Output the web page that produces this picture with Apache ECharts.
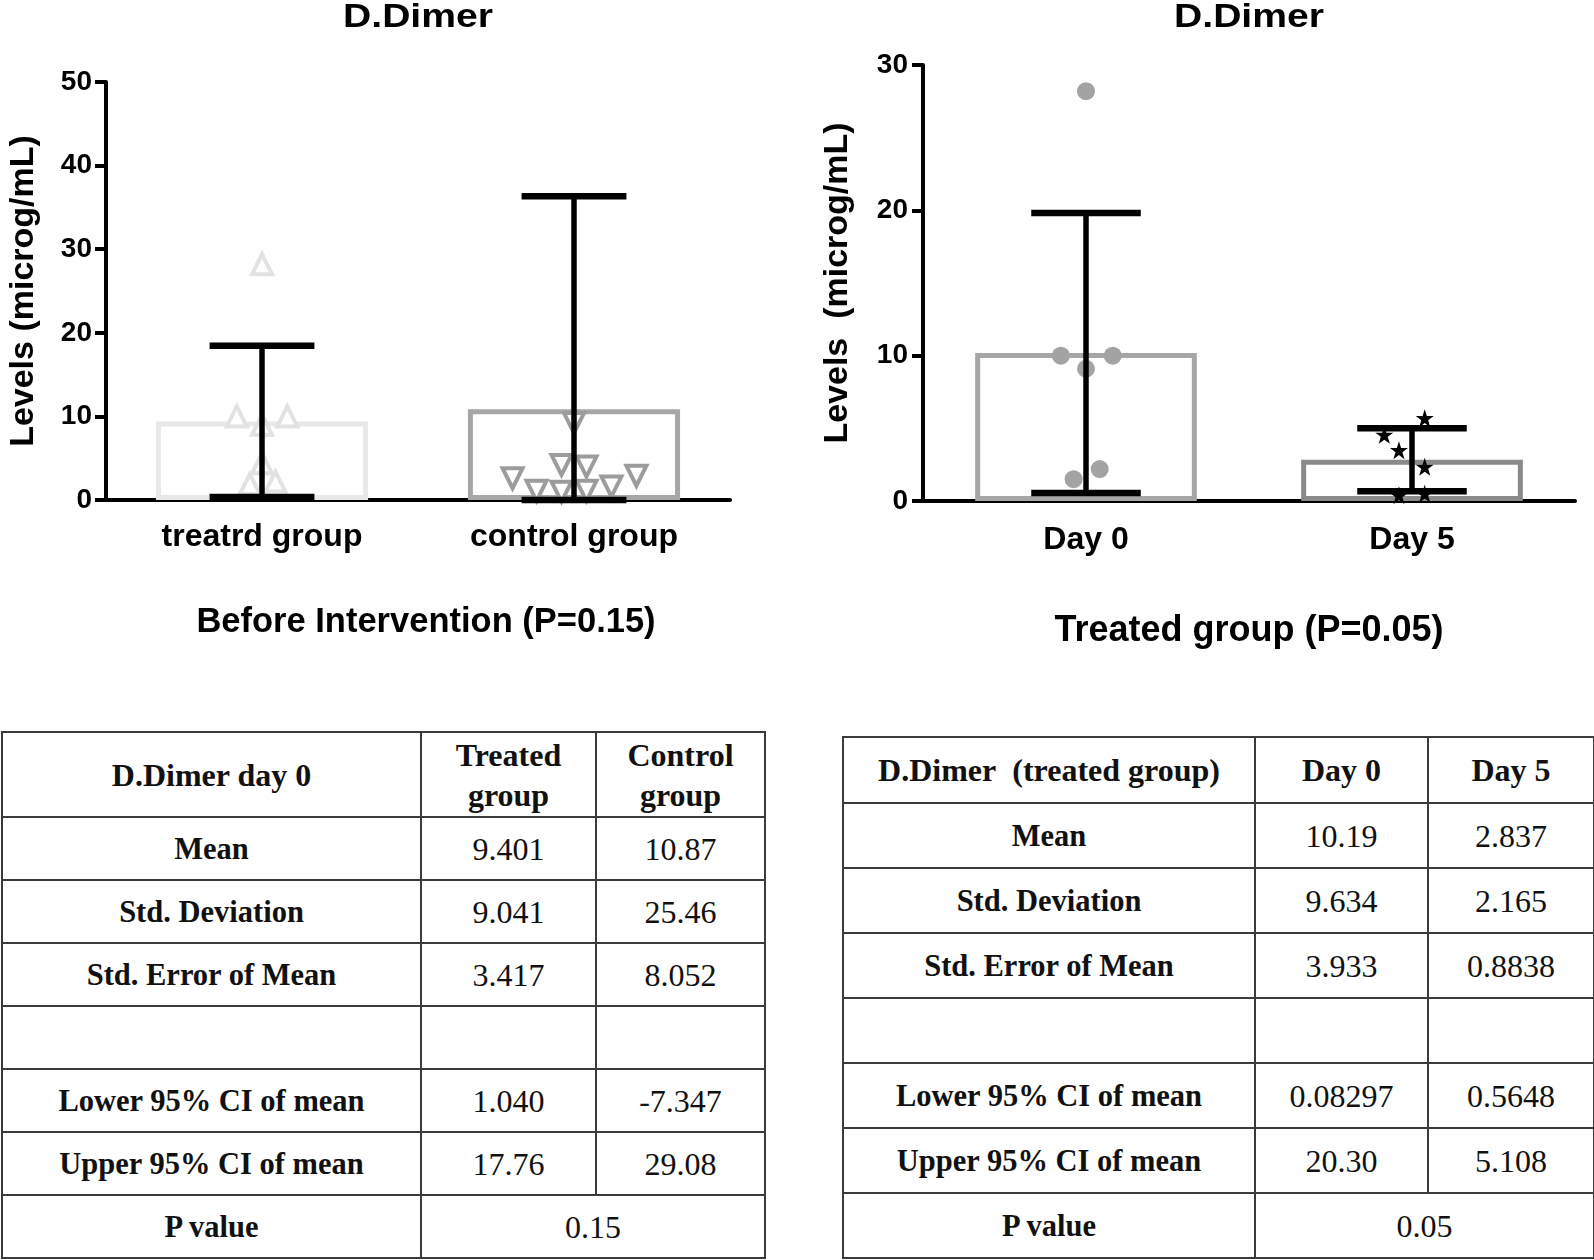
<!DOCTYPE html>
<html>
<head>
<meta charset="utf-8">
<script src="https://cdn.jsdelivr.net/npm/echarts@6/dist/echarts.min.js"></script>
<style>
  html, body { margin: 0; padding: 0; background: #fff; }
  #wrap { position: relative; width: 1594px; height: 1260px; overflow: hidden; background: #fff; }
  #chart { position: absolute; left: 0; top: 0; width: 1594px; height: 700px; }
  table.stat { position: absolute; border-collapse: collapse; table-layout: fixed;
    font-family: "Liberation Serif", "Times New Roman", serif; font-size: 32px; color: #111; }
  table.stat td { border: 2px solid #3a3a3a; text-align: center; vertical-align: middle; padding: 0; line-height: 40px; }
  table.stat td.lab { font-weight: bold; font-size: 30.5px; }
  table.stat td.hd { font-weight: bold; }
</style>
</head>
<body>
<div id="wrap">
  <div id="chart"></div>
  <table class="stat" id="t1"></table>
  <table class="stat" id="t2"></table>
</div>
<script>
// ---------- Data ----------
const leftTitle = 'D.Dimer';
const rightTitle = 'D.Dimer';
const leftCategories = ['treatrd group', 'control group'];
const leftMeans = [9.401, 10.87];
const leftSD = [9.041, 25.46];
const treatedValues = [28.2, 10.0, 10.0, 9.0, 4.4, 1.9, 2.2];
const treatedJitter = [0, -0.081, 0.081, 0, 0, -0.039, 0.043];
const controlValues = [9.2, 2.6, 1.1, 4.2, 1.0, 4.0, 1.1, 1.6, 2.9];
const controlJitter = [0, -0.197, -0.12, -0.04, -0.04, 0.04, 0.04, 0.12, 0.2];
const leftYTicks = [0, 50, 10];   // min, max, interval
const leftYName = 'Levels (microg/mL)';
const leftXName = 'Before Intervention (P=0.15)';

const rightCategories = ['Day 0', 'Day 5'];
const rightMeans = [10.19, 2.837];
const rightSD = [9.634, 2.165];
const day0Values = [28.2, 10.0, 10.0, 9.1, 1.5, 2.2];
const day0Jitter = [0, -0.077, 0.082, 0, -0.038, 0.042];
const day5Values = [5.7, 4.55, 3.5, 2.35, 0.4, 0.5];
const day5Jitter = [0.039, -0.085, -0.04, 0.039, -0.04, 0.039];
const rightYTicks = [0, 30, 10];
const rightYName = 'Levels  (microg/mL)';
const rightXName = 'Treated group (P=0.05)';

const table1Header = ['D.Dimer day 0', 'Treated group', 'Control group'];
const table1Rows = [
  ['Mean', '9.401', '10.87'],
  ['Std. Deviation', '9.041', '25.46'],
  ['Std. Error of Mean', '3.417', '8.052'],
  ['', '', ''],
  ['Lower 95% CI of mean', '1.040', '-7.347'],
  ['Upper 95% CI of mean', '17.76', '29.08']
];
const table1P = ['P value', '0.15'];

const table2Header = ['D.Dimer\u00a0\u00a0(treated group)', 'Day 0', 'Day 5'];
const table2Rows = [
  ['Mean', '10.19', '2.837'],
  ['Std. Deviation', '9.634', '2.165'],
  ['Std. Error of Mean', '3.933', '0.8838'],
  ['', '', ''],
  ['Lower 95% CI of mean', '0.08297', '0.5648'],
  ['Upper 95% CI of mean', '20.30', '5.108']
];
const table2P = ['P value', '0.05'];

// ---------- Chart ----------
const FONT = '"Liberation Sans", Arial, sans-serif';
const chart = echarts.init(document.getElementById('chart'), null, { renderer: 'canvas' });

function catAxis(gridIndex, data, name, nameGap, labelMargin, nameSize, namePad) {
  return {
    type: 'category', gridIndex, data,
    boundaryGap: true,
    axisLine: { lineStyle: { color: '#000', width: 4 } },
    axisTick: { alignWithLabel: true, length: 10, lineStyle: { color: '#000', width: 4 } },
    axisLabel: { color: '#000', fontSize: 32, fontWeight: 'bold', fontFamily: FONT, margin: labelMargin },
    name, nameLocation: 'middle', nameGap,
    nameTextStyle: { color: '#000', fontSize: nameSize, fontWeight: 'bold', fontFamily: FONT, padding: namePad },
    splitLine: { show: false }
  };
}
function hiddenValAxis(gridIndex) {
  return { type: 'value', gridIndex, min: -0.5, max: 1.5, show: false, splitLine: { show: false } };
}
function valAxis(gridIndex, ticks, name, nameGap, labelMargin) {
  return {
    type: 'value', gridIndex, min: ticks[0], max: ticks[1], interval: ticks[2],
    axisLine: { show: true, onZero: false, lineStyle: { color: '#000', width: 4 } },
    axisTick: { show: true, length: 11, lineStyle: { color: '#000', width: 4 } },
    axisLabel: { color: '#000', fontSize: 28, fontWeight: 'bold', fontFamily: FONT, margin: labelMargin },
    splitLine: { show: false },
    name, nameLocation: 'middle', nameGap, nameRotate: 90,
    nameTextStyle: { color: '#000', fontSize: 34, fontWeight: 'bold', fontFamily: FONT }
  };
}

function renderErr(params, api) {
  const c = api.value(0);
  const lo = Math.max(api.value(1), 0);
  const hi = api.value(2);
  const pLo = api.coord([c, lo]);
  const pHi = api.coord([c, hi]);
  const half = api.size([1, 0])[0] * 0.168;
  const cap = { stroke: '#000', lineWidth: 6.5 };
  return {
    type: 'group',
    children: [
      { type: 'line', shape: { x1: pLo[0], y1: pLo[1], x2: pHi[0], y2: pHi[1] }, style: { stroke: '#000', lineWidth: 5.5 } },
      { type: 'line', shape: { x1: pHi[0] - half, y1: pHi[1], x2: pHi[0] + half, y2: pHi[1] }, style: cap },
      { type: 'line', shape: { x1: pLo[0] - half, y1: pLo[1], x2: pLo[0] + half, y2: pLo[1] }, style: cap }
    ]
  };
}

const barBorders = { left: ['#e8e8e8', '#a6a6a6'], right: ['#a6a6a6', '#8a8a8a'] };
const STAR = 'path://M50,2 L61,36 L97,36 L68,57 L79,92 L50,71 L21,92 L32,57 L3,36 L39,36 Z';

function jittered(values, jitter, idx) {
  return values.map((v, i) => [idx + jitter[i], v]);
}

const titleStyle = (t) => ({ text: t, fill: '#000', font: 'bold 34px ' + FONT, align: 'center', verticalAlign: 'middle' });

const option = {
  backgroundColor: '#fff',
  animation: false,
  grid: [
    { left: 106, top: 82, width: 624, height: 418 },
    { left: 923, top: 65, width: 652, height: 436 }
  ],
  graphic: [
    { type: 'text', x: 418, y: 18, scaleX: 1.15, style: titleStyle(leftTitle) },
    { type: 'text', x: 1249, y: 18, scaleX: 1.15, style: titleStyle(rightTitle) }
  ],
  xAxis: [
    catAxis(0, leftCategories, leftXName, 105, 21, 34.5, [0, 0, 0, 16]),
    hiddenValAxis(0),
    catAxis(1, rightCategories, rightXName, 112, 23, 36, [0, 0, 0, 0]),
    hiddenValAxis(1)
  ],
  yAxis: [
    valAxis(0, leftYTicks, leftYName, 65, 14),
    valAxis(1, rightYTicks, rightYName, 68, 15)
  ],
  series: [
    {
      type: 'bar', xAxisIndex: 0, yAxisIndex: 0, barWidth: '68%', z: 1,
      data: leftMeans.map((v, i) => ({ value: v, itemStyle: { color: 'rgba(0,0,0,0)', borderColor: barBorders.left[i], borderWidth: 5 } }))
    },
    {
      type: 'scatter', xAxisIndex: 1, yAxisIndex: 0, symbol: 'triangle', symbolSize: 20, z: 2,
      itemStyle: { color: '#fff', borderColor: '#e2e2e2', borderWidth: 4, opacity: 1 },
      data: jittered(treatedValues, treatedJitter, 0)
    },
    {
      type: 'scatter', xAxisIndex: 1, yAxisIndex: 0, symbol: 'triangle', symbolRotate: 180, symbolSize: 20, z: 2,
      itemStyle: { color: '#fff', borderColor: '#9c9c9c', borderWidth: 4, opacity: 1 },
      data: jittered(controlValues, controlJitter, 1)
    },
    {
      type: 'custom', xAxisIndex: 0, yAxisIndex: 0, z: 5,
      renderItem: renderErr, encode: { x: 0, y: [1, 2] },
      data: leftMeans.map((m, i) => [i, m - leftSD[i], m + leftSD[i]])
    },
    {
      type: 'bar', xAxisIndex: 2, yAxisIndex: 1, barWidth: '68%', z: 1,
      data: rightMeans.map((v, i) => ({ value: v, itemStyle: { color: 'rgba(0,0,0,0)', borderColor: barBorders.right[i], borderWidth: 5 } }))
    },
    {
      type: 'scatter', xAxisIndex: 3, yAxisIndex: 1, symbol: 'circle', symbolSize: 18, z: 2,
      itemStyle: { color: '#a3a3a3', opacity: 1 },
      data: jittered(day0Values, day0Jitter, 0)
    },
    {
      type: 'scatter', xAxisIndex: 3, yAxisIndex: 1, symbol: STAR, symbolSize: 18, z: 2,
      itemStyle: { color: '#000', opacity: 1 },
      data: jittered(day5Values, day5Jitter, 1)
    },
    {
      type: 'custom', xAxisIndex: 2, yAxisIndex: 1, z: 5,
      renderItem: renderErr, encode: { x: 0, y: [1, 2] },
      data: rightMeans.map((m, i) => [i, m - rightSD[i], m + rightSD[i]])
    }
  ]
};
chart.setOption(option);

// ---------- Tables ----------
function buildTable(el, header, rows, pRow, geom) {
  el.style.left = geom.left + 'px';
  el.style.top = geom.top + 'px';
  el.style.width = geom.widths.reduce((a, b) => a + b, 0) + 'px';
  let html = '<colgroup>' + geom.widths.map(w => '<col style="width:' + w + 'px">').join('') + '</colgroup>';
  html += '<tr style="height:' + geom.headH + 'px">' + header.map(h => '<td class="hd">' + h + '</td>').join('') + '</tr>';
  rows.forEach(r => {
    html += '<tr style="height:' + geom.rowH + 'px"><td class="lab">' + r[0] + '</td><td>' + r[1] + '</td><td>' + r[2] + '</td></tr>';
  });
  html += '<tr style="height:' + geom.rowH + 'px"><td class="lab">' + pRow[0] + '</td><td colspan="2">' + pRow[1] + '</td></tr>';
  el.innerHTML = html;
}
buildTable(document.getElementById('t1'), table1Header, table1Rows, table1P,
  { left: 1, top: 731, widths: [419, 175, 169], headH: 85, rowH: 63 });
buildTable(document.getElementById('t2'), table2Header, table2Rows, table2P,
  { left: 842, top: 736, widths: [412, 173, 166], headH: 66, rowH: 65 });
</script>
</body>
</html>
